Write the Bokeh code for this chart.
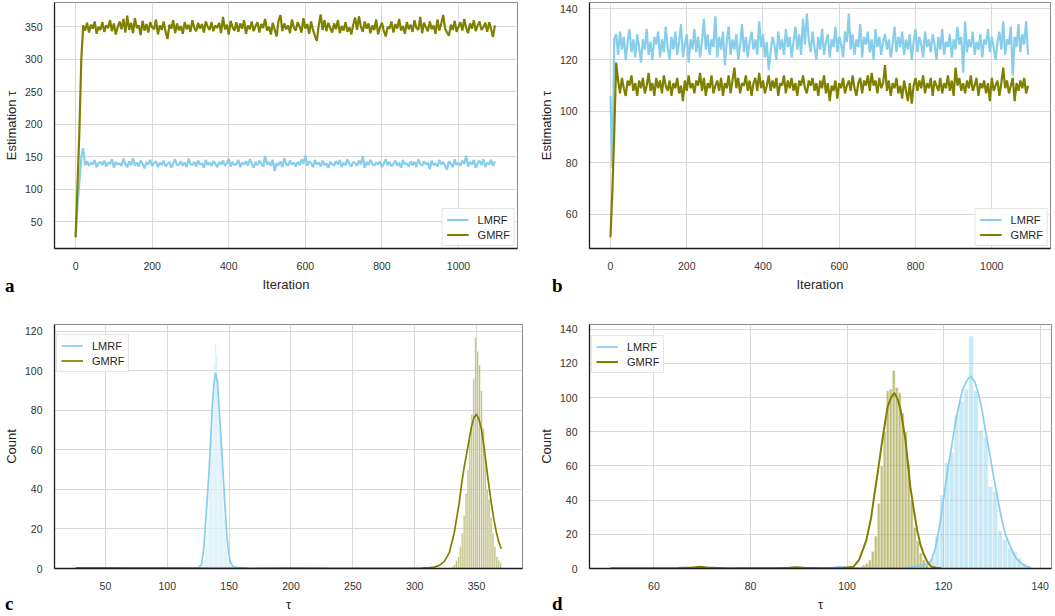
import numpy as np
from bokeh.plotting import figure
from bokeh.layouts import column, row
from bokeh.models import Legend, LegendItem, Div
from bokeh.embed import file_html
from bokeh.resources import INLINE

LMRF_COLOR = "#87CEEB"
GMRF_COLOR = "#808000"

# ---------------- trace data (sampled every 5 iterations) ----------------
ITER_STEP = 5

a_gmrf = [26, 105, 190, 300, 352,
          344, 356, 341, 353, 347, 358, 339, 350, 345, 357,
          342, 352, 348, 360, 343, 355, 338, 349, 358, 346,
          362, 341, 367, 345, 356, 340, 363, 348, 352, 337,
          359, 344, 354, 341, 357, 349, 346, 361, 338, 352,
          345, 358, 342, 331, 353, 347, 360, 340, 355, 344,
          351, 339, 357, 346, 353, 342, 360, 348, 343, 356,
          347, 354, 341, 358, 350, 345, 357, 343, 352, 348,
          356, 340, 365, 346, 353, 338, 359, 349, 344, 357,
          342, 355, 347, 360, 339, 352, 346, 358, 343, 351,
          357, 341, 354, 348, 362, 344, 350, 338, 356, 345,
          335, 359, 368, 343, 355, 346, 352, 340, 361, 349,
          344, 357, 350, 341, 363, 347, 354, 339, 358, 345,
          336, 328, 352, 369, 345, 360, 343, 356, 348, 341,
          355, 346, 360, 340, 351, 344, 357, 342, 349, 338,
          353, 364, 345, 366, 350, 342, 358, 347, 355, 340,
          352, 345, 361, 338, 349, 356, 343, 335, 350, 347,
          358, 341, 354, 347, 362, 344, 351, 339, 357, 346,
          353, 342, 360, 348, 345, 365, 340, 356, 349, 343,
          358, 346, 352, 339, 361, 344, 355, 368, 347, 341,
          336, 353, 345, 359, 342, 350, 357, 344, 362, 348,
          340, 355, 347, 360, 343, 352, 358, 345, 349, 356,
          342, 357, 346, 334, 352]

a_lmrf = [26, 75, 110, 150, 163, 137,
          143, 136, 141, 138, 145, 134, 140, 142, 137, 144,
          135, 141, 139, 146, 133, 142, 138, 140, 136, 147,
          139, 134, 143, 137, 148, 136, 141, 135, 144, 139,
          132, 142, 138, 145, 136, 140, 143, 134, 141, 137,
          144, 135, 139, 142, 133, 140, 146, 137, 138, 143,
          136, 141, 134, 147, 139, 137, 142, 135, 144, 138,
          140, 133, 145, 137, 141, 136, 143, 139, 134, 142,
          138, 144, 136, 140, 147, 135, 142, 137, 139, 145,
          134, 141, 138, 143, 136, 146, 140, 133, 142, 137,
          144, 139, 135, 151, 138, 142, 136, 145, 128, 140,
          137, 143, 134, 148, 139, 136, 144, 138, 141, 135,
          142, 137, 146, 139, 152, 136, 143, 140, 134, 145,
          138, 141, 135, 144, 137, 140, 133, 142, 139, 136,
          143, 138, 145, 134, 141, 137, 146, 139, 135, 142,
          140, 136, 144, 138, 151, 133, 142, 137, 145, 139,
          136, 141, 138, 143, 134, 140, 146, 137, 142, 135,
          139, 144, 136, 141, 133, 145, 138, 140, 135, 143,
          137, 142, 134, 146, 139, 136, 143, 138, 141, 131,
          144, 137, 140, 135, 145, 138, 142, 136, 130, 143,
          139, 134, 146, 137, 141, 136, 144, 139, 152, 135,
          142, 138, 145, 133, 140, 144, 137, 146, 134, 141,
          138, 145, 136, 143]

b_gmrf = [51, 69, 92, 119, 112,
          107, 113, 109, 106, 112, 110, 114, 108, 111, 106,
          112, 109, 113, 107, 110, 115, 108, 111, 106, 113,
          109, 112, 107, 114, 110, 108, 112, 106, 111, 109,
          113, 107, 110, 104, 112, 108, 114, 109, 111, 107,
          112, 110, 115, 108, 113, 106, 111, 109, 114, 107,
          110, 112, 108, 113, 106, 111, 109, 114, 107, 112,
          117, 109, 113, 107, 111, 110, 114, 108, 112, 106,
          111, 113, 108, 115, 109, 112, 107, 110, 114, 108,
          112, 109, 113, 106, 111, 110, 114, 107, 112, 109,
          113, 108, 111, 106, 112, 110, 114, 109, 107, 112,
          110, 113, 108, 111, 106, 112, 109, 114, 107, 111,
          104, 110, 108, 112, 105, 111, 109, 113, 107, 110,
          112, 108, 114, 109, 106, 111, 113, 107, 112, 110,
          114, 108, 115, 110, 112, 107, 113, 109, 111, 118,
          108, 112, 106, 111, 109, 113, 107, 110, 105, 112,
          108, 104, 111, 103, 110, 113, 108, 112, 109, 114,
          107, 111, 109, 113, 106, 112, 110, 108, 113, 107,
          111, 109, 114, 108, 112, 106, 117, 110, 113, 108,
          111, 107, 112, 109, 114, 108, 110, 113, 106, 111,
          109, 112, 107, 111, 104, 113, 108, 110, 112, 106,
          111, 117, 109, 112, 107, 110, 113, 104, 111, 108,
          112, 109, 113, 107, 110]

b_lmrf = [106, 78, 128, 130,
          122, 131, 124, 129, 120, 127, 132, 123, 128, 121,
          130, 125, 119, 128, 124, 132, 122, 127, 120, 129,
          126, 131, 121, 128, 123, 133, 125, 120, 129, 124,
          131, 122, 127, 134, 121, 126, 130, 119, 128, 124,
          132, 123, 129, 121, 127, 136, 124, 130, 122, 128,
          125, 137, 121, 129, 124, 131, 118, 127, 133, 122,
          128, 124, 130, 120, 126, 134, 123, 129, 121, 127,
          131, 124, 128, 122, 135, 125, 130, 121, 127, 116,
          123, 129, 126, 120, 131, 124, 128, 122, 132, 125,
          129, 121, 127, 133, 124, 130, 122, 136, 126, 138,
          128, 123, 131, 125, 120, 129, 124, 132, 122, 127,
          130, 121, 128, 125, 133, 123, 129, 126, 121, 131,
          127, 138, 124, 130, 122, 128, 125, 134, 121, 129,
          126, 131, 123, 128, 120, 132, 125, 129, 122, 127,
          130, 124, 128, 121, 126, 133, 123, 129, 125, 131,
          122, 128, 124, 130, 120, 127, 132, 123, 129, 126,
          121, 131, 125, 128, 123, 130, 126, 120, 129, 124,
          132, 122, 127, 125, 130, 121, 128, 124, 133, 126,
          129, 115, 135, 123, 128, 125, 131, 122, 127, 124,
          130, 121, 128, 126, 132, 123, 129, 125, 120, 127,
          131, 124, 135, 122, 128, 126, 133, 114, 129, 125,
          134, 123, 130, 126, 135, 122]

# ---------------- histogram data ----------------
c_lmrf_bin_start = 128.5
c_lmrf_bin_width = 1.0
c_lmrf_counts = [2, 4, 9, 16, 27, 40, 55, 72, 88, 103, 114, 108, 96, 86, 70, 54, 39, 26, 16, 9, 5, 3, 1]

c_gmrf_bin_start = 330.0
c_gmrf_bin_width = 1.55
c_gmrf_counts = [1, 2, 4, 6, 11, 18, 27, 38, 50, 66, 78, 96, 117, 110, 103, 90, 71, 56, 40, 35, 26, 18, 11, 6, 4, 3]

d_lmrf_bin_start = 115.2
d_lmrf_bin_width = 1.0
d_lmrf_counts = [2, 3, 6, 19, 43, 62, 68, 90, 98, 105, 136, 104, 81, 77, 48, 45, 22, 17, 12, 10, 6, 3, 1]

d_gmrf_bin_start = 102.54
d_gmrf_bin_width = 0.62
d_gmrf_counts = [1, 2, 3, 5, 10, 19, 38, 60, 80, 104, 105, 116, 106, 103, 91, 80, 61, 40, 24, 16, 9, 5, 2]

# ---------------- KDE curves ----------------
c_lmrf_kde_x = [26, 60, 100, 120, 124, 126, 127.7, 129.5, 131.1, 132.5, 133.8, 135.2, 136.5, 137.8, 139.1,
                140.5, 141.8, 143.4, 145, 146.6, 148.2, 149.6, 150.9, 153, 156, 160, 165]
c_lmrf_kde_y = [0.2, 0.2, 0.2, 0.1, 0.3, 0.8, 2, 10, 25, 37, 49.5, 67, 83.6, 94, 99,
                94, 82, 66, 49.5, 32, 16, 8, 3.4, 1, 0.5, 0.5, 0.2]

c_gmrf_kde_x = [26, 50, 80, 110, 140, 170, 200, 230, 260, 290, 305, 312, 316, 320, 324, 328, 332, 336, 338, 340,
                342, 344, 346, 348, 350, 352, 354, 356, 358, 360, 362, 364, 366, 368, 370]
c_gmrf_kde_y = [0.3, 0.3, 0.2, 0.2, 0.1, 0.1, 0.2, 0.1, 0.1, 0.1, 0.2, 0.4, 0.7, 1.6, 3.6, 8, 18, 33, 43, 51,
                58, 65, 72, 76.5, 78, 75.5, 70.5, 62, 52, 42, 33, 25, 18.5, 13.5, 10]

d_lmrf_kde_x = [77, 80, 85, 90, 95, 97, 98.5, 100, 103, 106, 108, 110, 112, 114, 115.2, 116.2, 116.8, 117.5,
                118.3, 119.2, 120.0, 120.9, 121.8, 122.6, 123.3, 123.9, 124.8, 125.6, 126.5, 127.3, 128.0,
                128.6, 129.5, 130.3, 131.2, 132.0, 132.8, 133.7, 134.5, 135.3, 136.2, 137.0, 138.0]
d_lmrf_kde_y = [0.3, 0.3, 0.2, 0.2, 0.3, 0.5, 0.9, 0.5, 0.3, 0.5, 0.4, 0.4, 0.5, 0.9, 1.6, 2.5, 2.8, 5,
                12, 25.4, 41, 58.5, 74, 87.8, 97, 104.4, 110, 112.7, 109, 101.4, 92,
                81.9, 68, 54.6, 41, 29.3, 20, 13.7, 8.5, 5, 2.8, 1.4, 0.6]

d_gmrf_kde_x = [51, 55, 60, 65, 68, 69.5, 71, 75, 80, 85, 88, 89.5, 91, 95, 99, 101.3, 102.5, 104.0, 105.0, 105.7,
                106.4, 107.1, 107.8, 108.4, 109.1, 109.8, 110.5, 111.1, 111.6, 112.1, 112.6, 113.1, 113.8, 114.5,
                115.2, 115.8, 116.6, 117.5, 118.5, 119.5]
d_gmrf_kde_y = [0.2, 0.2, 0.2, 0.3, 0.6, 1.0, 0.6, 0.2, 0.2, 0.2, 0.4, 0.8, 0.4, 0.2, 0.3, 1.0, 5, 16.6, 30, 43.9,
                57, 71.2, 84, 94.6, 100, 102.8, 99, 92.7, 84, 75.2, 62, 47.9, 35, 22.6,
                14, 8.9, 4, 1.0, 0.4, 0.1]

# ---------------- axes ticks ----------------
iter_ticks = [0, 200, 400, 600, 800, 1000]
a_yticks = [50, 100, 150, 200, 250, 300, 350]
b_yticks = [60, 80, 100, 120, 140]
c_xticks = [50, 100, 150, 200, 250, 300, 350]
c_yticks = [0, 20, 40, 60, 80, 100, 120]
d_xticks = [60, 80, 100, 120, 140]
d_yticks = [0, 20, 40, 60, 80, 100, 120, 140]

panel_letters = ["a", "b", "c", "d"]

FONT = "Liberation Sans"


def make_fig(width, height, xr, yr, bl, br, bt, bb, xticks, yticks, xlabel, ylabel):
    p = figure(width=width, height=height, x_range=xr, y_range=yr,
               output_backend="svg", toolbar_location=None,
               min_border_left=bl, min_border_right=br, min_border_top=bt, min_border_bottom=bb)
    p.background_fill_color = "white"
    p.border_fill_color = "white"
    p.outline_line_color = "#8c8c8c"
    p.outline_line_width = 1
    p.xaxis.ticker = xticks
    p.yaxis.ticker = yticks
    p.xaxis.axis_label = xlabel
    p.yaxis.axis_label = ylabel
    p.grid.grid_line_color = "#d9d9d9"
    p.grid.grid_line_width = 1.1
    p.axis.axis_line_color = "#1a1a1a"
    p.axis.axis_line_width = 1.3
    p.axis.major_tick_line_color = None
    p.axis.minor_tick_line_color = None
    p.axis.major_label_text_font = FONT
    p.axis.major_label_text_font_size = "10.5px"
    p.axis.major_label_text_color = "#333333"
    p.axis.axis_label_text_font = FONT
    p.axis.axis_label_text_font_size = "13px"
    p.axis.axis_label_text_font_style = "normal"
    p.axis.axis_label_text_color = "#262626"
    p.xaxis.major_label_standoff = 7
    p.yaxis.major_label_standoff = 6
    p.xaxis.axis_label_standoff = 4
    p.yaxis.axis_label_standoff = 3
    return p


def add_legend(p, r_l, r_g, loc):
    leg = Legend(items=[LegendItem(label="LMRF", renderers=[r_l]),
                        LegendItem(label="GMRF", renderers=[r_g])],
                 location=loc,
                 label_text_font=FONT, label_text_font_size="11px", label_text_color="#262626",
                 glyph_width=22, glyph_height=13, label_height=13, label_standoff=9,
                 spacing=2, padding=4, margin=2,
                 border_line_color="#cccccc", border_line_width=1,
                 background_fill_color="white", background_fill_alpha=0.85)
    p.add_layout(leg)


def letter_div(text, width, pad_left, shift):
    return Div(text=text, width=width, height=20, margin=(-20, 0, 0, 0),
               styles={"position": "relative", "z-index": "10", "top": f"{shift}px",
                       "padding-left": f"{pad_left}px",
                       "font-family": "Liberation Serif", "font-weight": "bold",
                       "font-size": "19px", "line-height": "20px", "color": "black"})


def trace(p, series, color):
    its = ITER_STEP * np.arange(len(series))
    return p.line(its, series, line_color=color, line_width=2.2)


def hist(p, start, width, counts, color, alpha):
    n = len(counts)
    left = start + width * np.arange(n)
    p.quad(left=left, right=left + width, bottom=0, top=counts,
           fill_color=color, fill_alpha=alpha, line_color="white", line_width=0.5)


# ---------------- panel a ----------------
pa = make_fig(535, 300, (-55, 1154), (8.8, 387.2), 45, 18, 2, 52,
              iter_ticks, a_yticks, "Iteration", "Estimation τ")
ra_l = trace(pa, a_lmrf, LMRF_COLOR)
ra_g = trace(pa, a_gmrf, GMRF_COLOR)
add_legend(pa, ra_l, ra_g, "bottom_right")

# ---------------- panel b ----------------
pb = make_fig(519, 300, (-55, 1154), (46.65, 142.35), 45, 4, 2, 52,
              iter_ticks, b_yticks, "Iteration", "Estimation τ")
rb_l = trace(pb, b_lmrf, LMRF_COLOR)
rb_g = trace(pb, b_gmrf, GMRF_COLOR)
add_legend(pb, rb_l, rb_g, "bottom_right")

# ---------------- panel c ----------------
pc = make_fig(535, 314, (8.8, 387.2), (0, 123.5), 48, 13, 24, 44,
              c_xticks, c_yticks, "τ", "Count")
hist(pc, c_lmrf_bin_start, c_lmrf_bin_width, c_lmrf_counts, LMRF_COLOR, 0.45)
hist(pc, c_gmrf_bin_start, c_gmrf_bin_width, c_gmrf_counts, GMRF_COLOR, 0.5)
rc_l = pc.line(c_lmrf_kde_x, c_lmrf_kde_y, line_color=LMRF_COLOR, line_width=1.7)
rc_g = pc.line(c_gmrf_kde_x, c_gmrf_kde_y, line_color=GMRF_COLOR, line_width=1.7)
add_legend(pc, rc_l, rc_g, (2, 196))

# ---------------- panel d ----------------
pd_ = make_fig(519, 314, (46.65, 142.35), (0, 142.8), 43, 3, 24, 44,
               d_xticks, d_yticks, "τ", "Count")
hist(pd_, d_lmrf_bin_start, d_lmrf_bin_width, d_lmrf_counts, LMRF_COLOR, 0.45)
hist(pd_, d_gmrf_bin_start, d_gmrf_bin_width, d_gmrf_counts, GMRF_COLOR, 0.5)
rd_l = pd_.line(d_lmrf_kde_x, d_lmrf_kde_y, line_color=LMRF_COLOR, line_width=1.7)
rd_g = pd_.line(d_gmrf_kde_x, d_gmrf_kde_y, line_color=GMRF_COLOR, line_width=2)
add_legend(pd_, rd_l, rd_g, (2, 195))

letters_top = row(letter_div(panel_letters[0], 535, 5, -4), letter_div(panel_letters[1], 200, 17, -4))
letters_bottom = row(letter_div(panel_letters[2], 535, 5, 0), letter_div(panel_letters[3], 200, 17, 0))

layout = column(row(pa, pb), letters_top, row(pc, pd_), letters_bottom)
open("out.html", "w").write(file_html(layout, INLINE))
